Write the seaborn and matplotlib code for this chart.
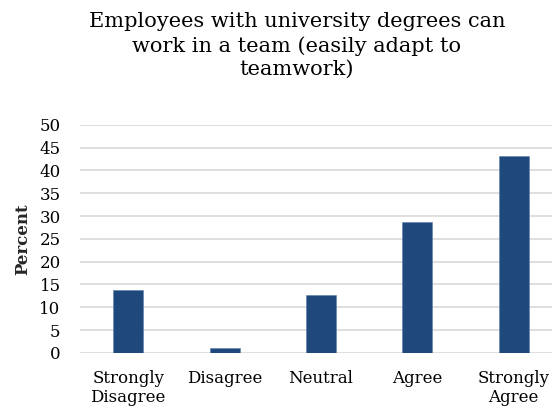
import matplotlib
matplotlib.use("Agg")
import matplotlib.pyplot as plt
import pandas as pd
import seaborn as sns

# survey responses (percent)
categories = ["Strongly\nDisagree", "Disagree", "Neutral", "Agree", "Strongly\nAgree"]
percent = [13.9, 1.1, 12.6, 28.7, 43.2]

df = pd.DataFrame({"category": categories, "percent": percent})

sns.set_style("white")
plt.rcParams["font.family"] = ["DejaVu Serif"]

fig = plt.figure(figsize=(5.52, 4.08), dpi=100)
ax = fig.add_axes([0.145, 0.135, 0.873, 0.559])

sns.barplot(data=df, x="category", y="percent", color="#1f497d", saturation=1,
            width=0.31, edgecolor="#5d7fa8", linewidth=0.4, ax=ax, zorder=3)

ax.set_ylim(0, 50)
ax.set_yticks(range(0, 51, 5))
ax.yaxis.grid(True, color="#d9d9d9", linewidth=1.2, zorder=0)
ax.set_axisbelow(True)
for s in ax.spines.values():
    s.set_visible(False)
ax.tick_params(axis="both", length=0, labelsize=12, colors="#000000")
ax.tick_params(axis="y", pad=14)
ax.tick_params(axis="x", pad=12)
ax.set_xlabel("")
ax.set_ylabel("Percent", fontsize=12, fontweight="bold", labelpad=6)

fig.suptitle("Employees with university degrees can\nwork in a team (easily adapt to\nteamwork)",
             x=0.538, y=0.97, fontsize=15, linespacing=1.3, color="#000000")

fig.savefig("out.png", dpi=100)
